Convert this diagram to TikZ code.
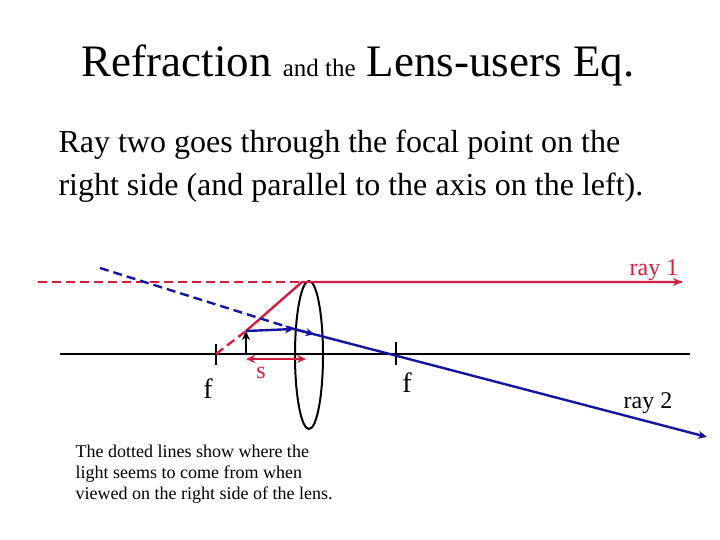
\documentclass[tikz,border=0pt]{standalone}
\usepackage{fontspec}
\setmainfont{Liberation Serif}
\usetikzlibrary{arrows.meta,shapes.geometric,calc}
\definecolor{rred}{RGB}{210,30,60}
\definecolor{rblue}{RGB}{20,20,160}
\begin{document}
\begin{tikzpicture}[x=1pt,y=-1pt,
 ray/.style={line width=2.4pt},
 tip/.style={-{Stealth[length=9pt,width=8pt]}}]
\useasboundingbox (0,0) rectangle (720,540);
\node (title) at (358,65) {\fontsize{45}{54}\selectfont Refraction {\fontsize{25}{30}\selectfont and the} Lens-users Eq.};
\node[anchor=west,align=left,font=\fontsize{32}{43}\selectfont] (body) at (55,166) {Ray two goes through the focal point on the\\right side (and parallel to the axis on the left).};
\coordinate (axL) at (60,354); \coordinate (axR) at (690,354);
\draw[line width=2pt] (axL) -- (axR);
\coordinate (f1) at (216,354); \coordinate (f2) at (396,354);
\draw[line width=2pt] (216,344) -- (216,365);
\draw[line width=2pt] (396,342) -- (396,365);
\node[ellipse,draw,line width=2pt,minimum width=28pt,minimum height=148pt,inner sep=0pt] (lens) at (309,355) {};
\coordinate (ob) at (246,354); \coordinate (ot) at (246,331);
\draw[line width=2pt,tip] (ob) -- (ot);
\coordinate (lt) at (302,282); \coordinate (lm) at (294,329);
\coordinate (r1s) at (38,282); \coordinate (r1e) at (682,282);
\coordinate (r2s) at (100,268); \coordinate (r2e) at (707,437);
% red ray
\draw[rred,ray,dashed,dash pattern=on 9pt off 5pt] (r1s) -- (lt);
\draw[rred,ray,dashed,dash pattern=on 9pt off 5pt] (f1) -- (ot);
\draw[rred,ray] (ot) -- (lt) -- (r1e);
\draw[rred,ray,tip] (600,282) -- (r1e);
% blue ray
\draw[rblue,ray,dashed,dash pattern=on 9pt off 5pt] (r2s) -- (lm);
\draw[rblue,ray,tip] (ot) -- (lm);
\draw[rblue,ray,tip] (lm) -- (r2e);
\draw[rblue,ray,tip] (lm) -- ($(lm)!0.05!(r2e)$);
% s arrow
\coordinate (sa) at (246,359); \coordinate (sb) at (306,359);
\draw[rred,line width=2pt,{Stealth[length=9pt,width=8pt]}-{Stealth[length=9pt,width=8pt]}] (sa) -- (sb);
\node[rred,font=\fontsize{24}{28}\selectfont] (s) at (261,373) {s};
\node[font=\fontsize{28}{32}\selectfont] (fl1) at (208,389) {f};
\node[font=\fontsize{28}{32}\selectfont] (fl2) at (407,383) {f};
\node[rred,font=\fontsize{24}{28}\selectfont] (ray1) at (654,270) {ray 1};
\node[font=\fontsize{24}{28}\selectfont] (ray2) at (648,403) {ray 2};
\node[anchor=west,align=left,font=\fontsize{18}{21}\selectfont] (note) at (72,474) {The dotted lines show where the\\light seems to come from when\\viewed on the right side of the lens.};
\end{tikzpicture}
\end{document}
